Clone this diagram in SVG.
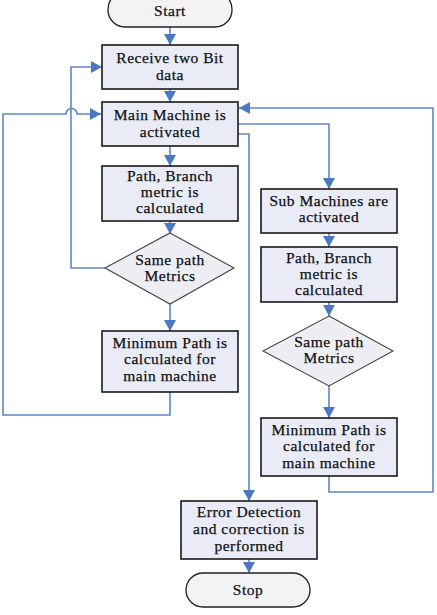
<svg xmlns="http://www.w3.org/2000/svg" width="437" height="615" viewBox="0 0 437 615">
<style>
.box{fill:#E9ECF7;stroke:#1a1a1a;stroke-width:1.6}
.pill{fill:#F3F3F6;stroke:#222;stroke-width:1.3}
.dia{fill:#ECEEF4;stroke:#444;stroke-width:1.1}
.t{font-family:"Liberation Serif","Times New Roman",serif;font-size:15.5px;letter-spacing:0.5px;fill:#111;text-anchor:middle;stroke:#111;stroke-width:0.25}
.c{fill:none;stroke:#5B86C8;stroke-width:1.6}
</style>
<defs>
<marker id="ah" markerWidth="12" markerHeight="12" refX="11" refY="6" orient="auto" markerUnits="userSpaceOnUse">
<path d="M0,0 L11,6 L0,12 Z" fill="#4A78C2"/>
</marker>
</defs>
<g id="connectors">
<line class="c" x1="170" y1="27" x2="170" y2="45" marker-end="url(#ah)"/>
<line class="c" x1="170" y1="89" x2="170" y2="102" marker-end="url(#ah)"/>
<line class="c" x1="170" y1="146" x2="170" y2="166" marker-end="url(#ah)"/>
<line class="c" x1="170" y1="221" x2="170" y2="234" marker-end="url(#ah)"/>
<line class="c" x1="170" y1="304" x2="170" y2="331" marker-end="url(#ah)"/>
<polyline class="c" points="105,268 71,268 71,67 102,67" marker-end="url(#ah)"/>
<path class="c" d="M170,392 L170,415 L3,415 L3,114 L66,114 A5.5,5.5 0 0 1 77,114 L101,114" marker-end="url(#ah)"/>
<polyline class="c" points="238,124 329,124 329,189" marker-end="url(#ah)"/>
<polyline class="c" points="238,134 249,134 249,501" marker-end="url(#ah)"/>
<line class="c" x1="329" y1="233" x2="329" y2="247" marker-end="url(#ah)"/>
<line class="c" x1="329" y1="302" x2="329" y2="316" marker-end="url(#ah)"/>
<line class="c" x1="329" y1="386" x2="329" y2="418" marker-end="url(#ah)"/>
<polyline class="c" points="329,476 329,492 433,492 433,108 239,108" marker-end="url(#ah)"/>
<line class="c" x1="249" y1="559" x2="249" y2="573" marker-end="url(#ah)"/>
</g>
<g id="start">
<rect class="pill" x="108" y="-8" width="124" height="35" rx="17"/>
<text class="t" x="170" y="16">Start</text>
</g>
<g id="receive">
<rect class="box" x="102" y="45" width="136" height="44"/>
<text class="t" x="170" y="63">Receive two Bit</text>
<text class="t" x="170" y="80">data</text>
</g>
<g id="main">
<rect class="box" x="102" y="102" width="136" height="44"/>
<text class="t" x="170" y="120">Main Machine is</text>
<text class="t" x="170" y="137">activated</text>
</g>
<g id="path1">
<rect class="box" x="102" y="166" width="136" height="55"/>
<text class="t" x="170" y="181">Path, Branch</text>
<text class="t" x="170" y="197">metric is</text>
<text class="t" x="170" y="213">calculated</text>
</g>
<g id="same1">
<polygon class="dia" points="170,233 234,268 170,304 105,268"/>
<text class="t" x="170" y="265">Same path</text>
<text class="t" x="170" y="281">Metrics</text>
</g>
<g id="min1">
<rect class="box" x="102" y="331" width="136" height="61"/>
<text class="t" x="170" y="348">Minimum Path is</text>
<text class="t" x="170" y="364">calculated for</text>
<text class="t" x="170" y="381">main machine</text>
</g>
<g id="sub">
<rect class="box" x="261" y="189" width="136" height="44"/>
<text class="t" x="329" y="206">Sub Machines are</text>
<text class="t" x="329" y="222">activated</text>
</g>
<g id="path2">
<rect class="box" x="261" y="247" width="136" height="55"/>
<text class="t" x="329" y="263">Path, Branch</text>
<text class="t" x="329" y="279">metric is</text>
<text class="t" x="329" y="295">calculated</text>
</g>
<g id="same2">
<polygon class="dia" points="329,316 393,351 329,386 263,351"/>
<text class="t" x="329" y="347">Same path</text>
<text class="t" x="329" y="363">Metrics</text>
</g>
<g id="min2">
<rect class="box" x="261" y="418" width="136" height="58"/>
<text class="t" x="329" y="435">Minimum Path is</text>
<text class="t" x="329" y="451">calculated for</text>
<text class="t" x="329" y="468">main machine</text>
</g>
<g id="error">
<rect class="box" x="181" y="501" width="136" height="58"/>
<text class="t" x="249" y="517">Error Detection</text>
<text class="t" x="249" y="534">and correction is</text>
<text class="t" x="249" y="551">performed</text>
</g>
<g id="stop">
<rect class="pill" x="186" y="573" width="124" height="34" rx="17"/>
<text class="t" x="248" y="595">Stop</text>
</g>
</svg>
